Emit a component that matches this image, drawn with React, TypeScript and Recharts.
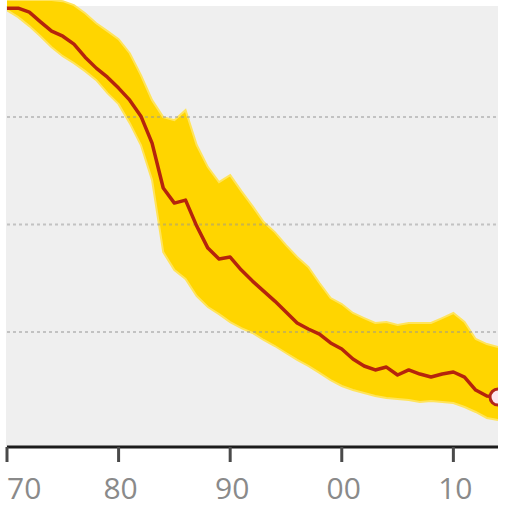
import React from "react";
import { ComposedChart, Area, Line, XAxis, YAxis, ReferenceLine } from "recharts";

const years = [
  1970, 1971, 1972, 1973, 1974, 1975, 1976, 1977, 1978, 1979,
  1980, 1981, 1982, 1983, 1984, 1985, 1986, 1987, 1988, 1989,
  1990, 1991, 1992, 1993, 1994, 1995, 1996, 1997, 1998, 1999,
  2000, 2001, 2002, 2003, 2004, 2005, 2006, 2007, 2008, 2009,
  2010, 2011, 2012, 2013, 2014,
];

// central estimate
const central = [
  40.14, 40.14, 39.77, 38.87, 38.0, 37.53, 36.79, 35.58, 34.56, 33.72,
  32.7, 31.58, 30.09, 27.58, 23.4, 22.0, 22.28, 19.86, 17.81, 16.79,
  16.98, 15.77, 14.74, 13.81, 12.88, 11.86, 10.84, 10.28, 9.81, 8.98,
  8.42, 7.49, 6.84, 6.47, 6.74, 6.0, 6.47, 6.09, 5.81, 6.09,
  6.28, 5.81, 4.6, 4.05, 3.95,
];

// uncertainty band
const upper = [
  40.9, 40.9, 40.9, 40.9, 40.9, 40.79, 40.42, 39.67, 38.74, 38.0,
  37.26, 35.95, 33.91, 31.58, 30.0, 29.72, 30.65, 27.4, 25.35, 23.95,
  24.6, 23.12, 21.72, 20.23, 19.3, 18.09, 16.98, 16.05, 14.56, 13.16,
  12.6, 11.77, 11.3, 10.84, 10.93, 10.65, 10.84, 10.84, 10.84, 11.3,
  11.77, 10.93, 9.35, 8.88, 8.6,
];

const lower = [
  39.95, 39.3, 38.47, 37.53, 36.51, 35.67, 35.02, 34.28, 33.44, 32.23,
  31.21, 29.44, 27.4, 24.14, 17.44, 15.77, 14.93, 13.35, 12.33, 11.67,
  10.93, 10.37, 9.91, 9.26, 8.7, 8.05, 7.4, 6.84, 6.19, 5.53,
  4.98, 4.6, 4.33, 4.05, 3.86, 3.77, 3.67, 3.49, 3.58, 3.49,
  3.4, 3.02, 2.56, 2.0, 1.81,
];

const gridValues = [10, 20, 30];
const yearTicks = [1970, 1980, 1990, 2000, 2010];
const tickLabels = ["70", "80", "90", "00", "10"];

const data = years.map((year, i) => ({
  year,
  mid: central[i],
  band: [lower[i], upper[i]],
}));

function YearTick(props: any) {
  const { x, y, payload } = props;
  const i = yearTicks.indexOf(payload.value);
  return (
    <text
      x={i === 0 ? x : x + 2}
      y={y + 35}
      textAnchor={i === 0 ? "start" : "middle"}
      fill="#8a8a8a"
      fontSize={30}
      fontFamily="'Open Sans', sans-serif"
    >
      {tickLabels[i]}
    </text>
  );
}

function EndDot(props: any) {
  const { cx, cy, index } = props;
  if (index !== years.length - 1) return <g key={`d${index}`} />;
  return (
    <circle
      key={`d${index}`}
      cx={cx}
      cy={cy}
      r={8}
      fill="#fde6ee"
      stroke="#b3261a"
      strokeWidth={3}
    />
  );
}

export default function App() {
  return (
    <div style={{ position: "absolute", left: 0, top: 0, width: 506, height: 509, background: "#fff" }}>
      <div
        style={{
          position: "absolute",
          left: 6,
          top: 6,
          width: 492,
          height: 441,
          background: "#efefef",
        }}
      />
      <div style={{ position: "absolute", left: 0, top: 0 }}>
        <ComposedChart
          width={506}
          height={509}
          data={data}
          margin={{ top: 0, right: 8, left: 7, bottom: 0 }}
        >
          <XAxis
            dataKey="year"
            type="number"
            domain={[1970, 2014]}
            ticks={yearTicks}
            interval={0}
            allowDataOverflow
            height={62}
            tickSize={15}
            axisLine={{ stroke: "#1c1c1c", strokeWidth: 3 }}
            tickLine={{ stroke: "#4a4a4a", strokeWidth: 3 }}
            tick={<YearTick />}
          />
          <YAxis hide type="number" domain={[-0.7, 40.9]} allowDataOverflow />
          <Area
            dataKey="band"
            type="linear"
            fill="#ffd500"
            fillOpacity={1}
            stroke="#ffe45c"
            strokeWidth={2}
            isAnimationActive={false}
          />
          {gridValues.map((v) => (
            <ReferenceLine
              key={v}
              y={v}
              stroke="rgba(150,150,150,0.5)"
              strokeWidth={2}
              strokeDasharray="3 3"
            />
          ))}
          <Line
            dataKey="mid"
            type="linear"
            stroke="#b5240c"
            strokeWidth={3.5}
            strokeLinejoin="round"
            dot={EndDot}
            activeDot={false}
            isAnimationActive={false}
          />
        </ComposedChart>
      </div>
    </div>
  );
}
